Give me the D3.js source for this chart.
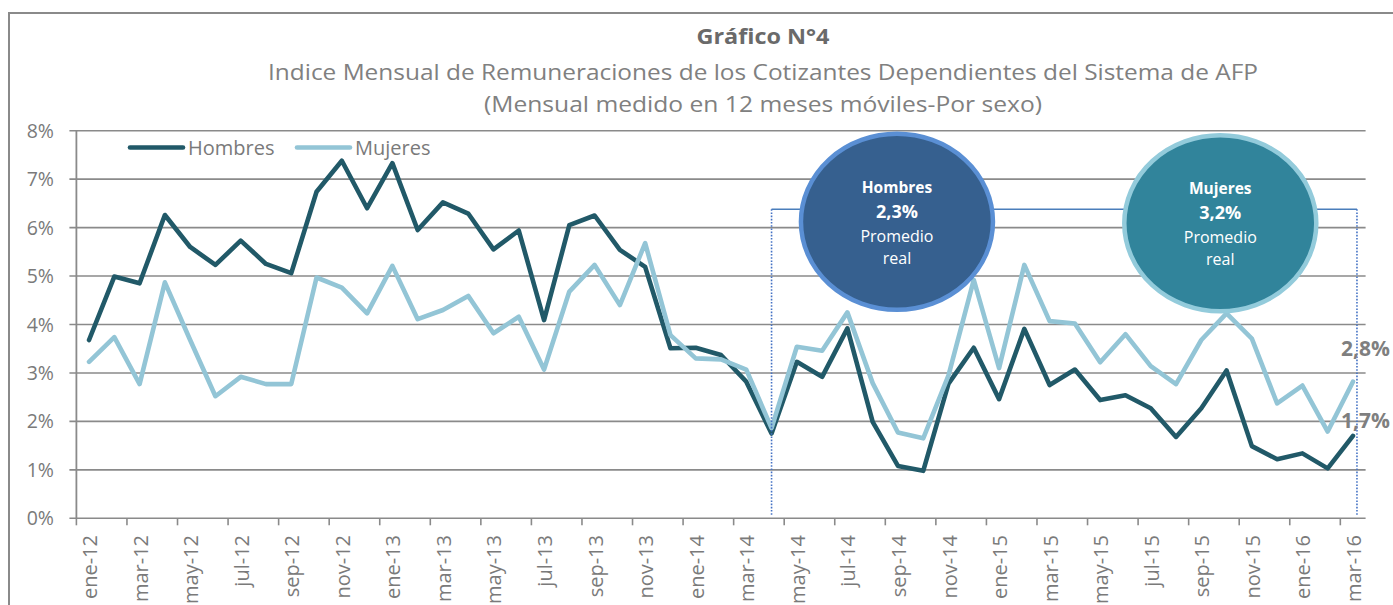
<!DOCTYPE html>
<html><head><meta charset="utf-8">
<script src="https://cdn.jsdelivr.net/npm/d3@7/dist/d3.min.js"></script>
<style>html,body{margin:0;padding:0;background:#fff;overflow:hidden}</style>
</head><body>
<svg id="c" width="1393" height="605"></svg>
<script>
const months = ["ene-12","feb-12","mar-12","abr-12","may-12","jun-12","jul-12","ago-12","sep-12","oct-12","nov-12","dic-12",
"ene-13","feb-13","mar-13","abr-13","may-13","jun-13","jul-13","ago-13","sep-13","oct-13","nov-13","dic-13",
"ene-14","feb-14","mar-14","abr-14","may-14","jun-14","jul-14","ago-14","sep-14","oct-14","nov-14","dic-14",
"ene-15","feb-15","mar-15","abr-15","may-15","jun-15","jul-15","ago-15","sep-15","oct-15","nov-15","dic-15",
"ene-16","feb-16","mar-16"];
const hombres = [3.68,4.99,4.85,6.26,5.60,5.23,5.73,5.25,5.06,6.74,7.38,6.40,
7.33,5.95,6.52,6.29,5.55,5.94,4.09,6.05,6.25,5.54,5.19,3.51,
3.52,3.37,2.82,1.75,3.23,2.92,3.92,1.99,1.08,0.98,2.78,3.52,
2.46,3.91,2.75,3.07,2.44,2.54,2.27,1.68,2.27,3.05,1.49,1.22,
1.34,1.03,1.70];
const mujeres = [3.23,3.74,2.77,4.87,3.68,2.52,2.92,2.77,2.77,4.97,4.76,4.23,
5.21,4.11,4.30,4.59,3.82,4.16,3.07,4.68,5.23,4.40,5.68,3.78,
3.30,3.28,3.07,1.86,3.54,3.46,4.25,2.79,1.77,1.65,2.95,4.92,
3.10,5.23,4.07,4.02,3.22,3.80,3.14,2.77,3.68,4.23,3.71,2.37,
2.74,1.79,2.82];
const yTicks = [0,1,2,3,4,5,6,7,8];
const seriesNames = ["Hombres","Mujeres"];
const titleLines = ["Gráfico N°4",
 "Indice Mensual de Remuneraciones de los Cotizantes Dependientes del Sistema de AFP",
 "(Mensual medido en 12 meses móviles-Por sexo)"];
const promedios = [{name:"Hombres", value:"2,3%", sub1:"Promedio", sub2:"real"},
                   {name:"Mujeres", value:"3,2%", sub1:"Promedio", sub2:"real"}];
const endLabels = ["2,8%","1,7%"];

const colH = "#215968", colM = "#93c5d6", grid = "#8a8a8a", txt = "#7a7a7a";
const font = "'Open Sans', sans-serif";
const svg = d3.select("#c");
const L = 76.4, R = 1365.6, T = 130.7, B = 518.3;

const xb = d3.scaleBand().domain(months).range([L, R]).paddingInner(0).paddingOuter(0);
const xc = d => xb(d) + xb.bandwidth()/2;
const y = d3.scaleLinear().domain([0, 8]).range([B, T]);

// outer frame
svg.append("path").attr("d","M9,605V13H1393").attr("fill","none").attr("stroke","#8a8a8a").attr("stroke-width",2);

// titles
const tl = [{t:titleLines[0], y:44, w:133, size:21.5, bold:true, fill:"#6a6a6a"},
            {t:titleLines[1], y:79.5, w:990, size:22, bold:false, fill:"#808080"},
            {t:titleLines[2], y:111.5, w:558, size:22, bold:false, fill:"#808080"}];
tl.forEach(d => svg.append("text").attr("x",763).attr("y",d.y).attr("text-anchor","middle")
  .attr("font-family",font).attr("font-size",d.size).attr("font-weight",d.bold?"bold":"normal")
  .attr("fill",d.fill).attr("textLength",d.w).attr("lengthAdjust","spacingAndGlyphs").text(d.t));

// gridlines
svg.append("g").selectAll("line").data(yTicks).join("line")
  .attr("x1",L-7).attr("x2",R).attr("y1",d=>y(d)).attr("y2",d=>y(d))
  .attr("stroke",grid).attr("stroke-width",1.6);
// y labels
svg.append("g").selectAll("text").data(yTicks).join("text")
  .attr("x",54).attr("y",d=>y(d)+7).attr("text-anchor","end")
  .attr("font-family",font).attr("font-size",19.5).attr("fill",txt).text(d=>d+"%");
// y axis line
svg.append("line").attr("x1",L).attr("x2",L).attr("y1",T).attr("y2",B).attr("stroke",grid).attr("stroke-width",1.8);
// x axis ticks
const tickMonths = months.filter((m,i)=>i%2===0);
svg.append("g").selectAll("line").data(tickMonths).join("line")
  .attr("x1",d=>xb(d)).attr("x2",d=>xb(d)).attr("y1",B).attr("y2",B+7)
  .attr("stroke",grid).attr("stroke-width",1.6);
svg.append("g").selectAll("text").data(tickMonths).join("text")
  .attr("transform",d=>`translate(${xc(d)+8},535) rotate(-90)`).attr("text-anchor","end")
  .attr("font-family",font).attr("font-size",20).attr("fill",txt).text(d=>d);

// bracket
const xA = xc("abr-14"), xZ = xc("mar-16")+4, yBr = y(6.38);
svg.append("line").attr("x1",xA).attr("x2",xZ).attr("y1",yBr).attr("y2",yBr).attr("stroke","#4a7ebb").attr("stroke-width",1.6);

// series
const line = d3.line().x((d,i)=>xc(months[i])).y(d=>y(d));
svg.append("path").datum(hombres).attr("d",line).attr("fill","none").attr("stroke",colH)
  .attr("stroke-width",4.6).attr("stroke-linejoin","round").attr("stroke-linecap","round");
svg.append("path").datum(mujeres).attr("d",line).attr("fill","none").attr("stroke",colM)
  .attr("stroke-width",4.6).attr("stroke-linejoin","round").attr("stroke-linecap","round");

// dotted verticals
[xA, xZ].forEach(xx => svg.append("line").attr("x1",xx).attr("x2",xx).attr("y1",yBr).attr("y2",B-3)
  .attr("stroke","#4472c4").attr("stroke-width",1.6).attr("stroke-dasharray","1.6,1.6"));

// legend
const leg = [{n:seriesNames[0], c:colH, x1:130, x2:183, tx:188},
             {n:seriesNames[1], c:colM, x1:297, x2:350, tx:355}];
leg.forEach(d => {
  svg.append("line").attr("x1",d.x1).attr("x2",d.x2).attr("y1",147.5).attr("y2",147.5)
    .attr("stroke",d.c).attr("stroke-width",4.6).attr("stroke-linecap","round");
  svg.append("text").attr("x",d.tx).attr("y",155).attr("font-family",font).attr("font-size",20)
    .attr("fill",txt).text(d.n);
});

// ellipses
const ell = [{cx:xc("sep-14")-1, cy:y(6.12), fill:"#36608f", stroke:"#5a8fd4", p:promedios[0]},
             {cx:xc("sep-15")+19, cy:y(6.09), fill:"#31849b", stroke:"#93cbdb", p:promedios[1]}];
ell.forEach(e => {
  svg.append("ellipse").attr("cx",e.cx).attr("cy",e.cy).attr("rx",96).attr("ry",88)
    .attr("fill",e.fill).attr("stroke",e.stroke).attr("stroke-width",4.5);
  const g = svg.append("g").attr("font-family",font).attr("fill","#fff").attr("text-anchor","middle");
  g.append("text").attr("x",e.cx).attr("y",e.cy-29).attr("font-size",15.5).attr("font-weight","bold").text(e.p.name);
  g.append("text").attr("x",e.cx).attr("y",e.cy-4).attr("font-size",18).attr("font-weight","bold").text(e.p.value);
  g.append("text").attr("x",e.cx).attr("y",e.cy+20).attr("font-size",16).text(e.p.sub1);
  g.append("text").attr("x",e.cx).attr("y",e.cy+42).attr("font-size",16).text(e.p.sub2);
});

// end labels
[{t:endLabels[0], y:356},{t:endLabels[1], y:428}].forEach(d =>
  svg.append("text").attr("x",1341).attr("y",d.y).attr("font-family",font).attr("font-size",21)
    .attr("font-weight","bold").attr("fill","#7f7f7f").text(d.t));
</script>
</body></html>
